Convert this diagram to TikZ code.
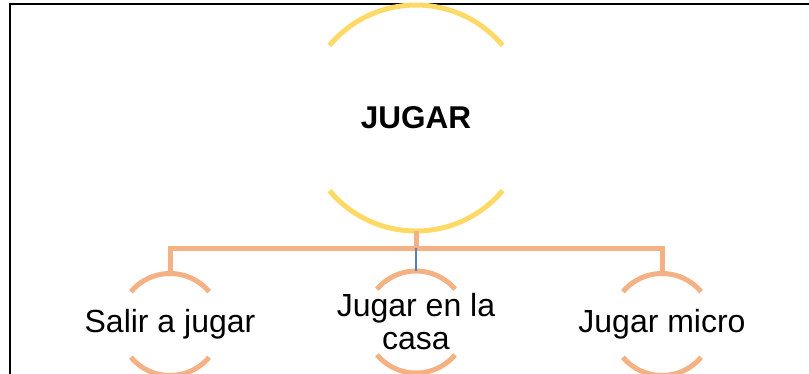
\documentclass[tikz,border=0pt]{standalone}
\usepackage{xcolor}
\usepackage{tikz}
\usepackage{fontspec}
\setmainfont{Liberation Sans}

\definecolor{arcyellow}{HTML}{FFD966}
\definecolor{arcorange}{HTML}{F4B183}
\definecolor{linkblue}{HTML}{4F81BD}

\begin{document}
\begin{tikzpicture}[x=1pt,y=-1pt]
        % Define styles
        \tikzset{
            topic/.style={font=\fontsize{31.5}{32}\selectfont\bfseries, inner sep=0pt},
            subtopic/.style={font=\fontsize{32}{33}\selectfont, align=center, inner sep=0pt},
            bigarc/.style={draw=arcyellow, line width=5pt},
            smallarc/.style={draw=arcorange, line width=5pt},
            branch/.style={draw=arcorange, line width=5pt},
            thinlink/.style={draw=linkblue, line width=1.5pt}
        }
        \useasboundingbox (0,0) rectangle (809,373);

        % Frame
        \draw[line width=2pt] (10,375) -- (10,4) -- (811,4);

        % Nodes
        \node[topic] (main_node) at (416,118) {JUGAR};
        \node[subtopic] (sub_node_1) at (170,324.5) {Salir a jugar};
        \node[subtopic] (sub_node_2) at (416,322) {Jugar en la\\casa};
        \node[subtopic] (sub_node_3) at (662,324.5) {Jugar micro};
        \coordinate (bus) at (416,248);

        % Arcs (y points down here)
        \draw[bigarc] ([shift={(-40:113)}]main_node.center) arc[start angle=-40, end angle=-140, radius=113];
        \draw[bigarc] ([shift={(40:113)}]main_node.center) arc[start angle=40, end angle=140, radius=113];
        \foreach \n in {1,2,3} {
            \draw[smallarc] ([shift={(-40:51)}]sub_node_\n.center) arc[start angle=-40, end angle=-140, radius=51];
            \draw[smallarc] ([shift={(40:51)}]sub_node_\n.center) arc[start angle=40, end angle=140, radius=51];
        }

        % Connectors
        \coordinate (main_bottom) at ([shift={(0,113)}]main_node.center);
        \coordinate (top_1) at ([shift={(0,-53)}]sub_node_1.center);
        \coordinate (top_2) at ([shift={(0,-51)}]sub_node_2.center);
        \coordinate (top_3) at ([shift={(0,-53)}]sub_node_3.center);
        \draw[branch] (main_bottom) -- (bus);
        \draw[branch] (top_1) |- (bus);
        \draw[branch] (top_3) |- (bus);
        \draw[thinlink] (bus) -- (top_2);
    \end{tikzpicture}
\end{document}
